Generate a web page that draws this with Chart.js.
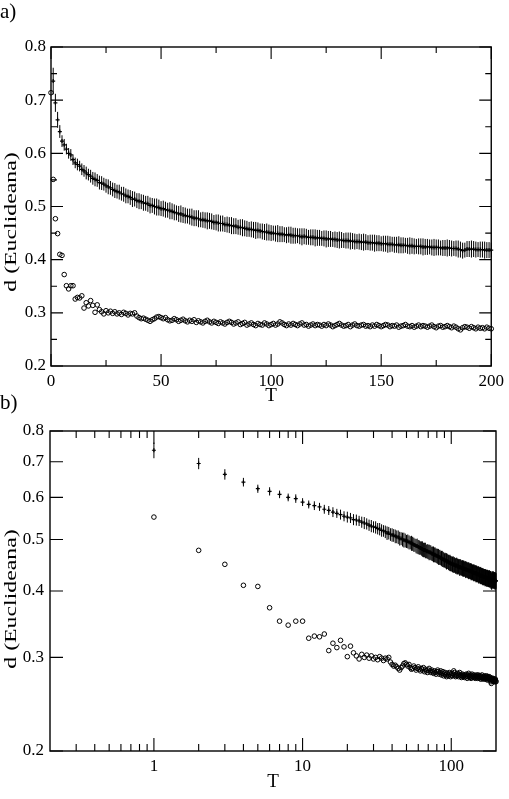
<!DOCTYPE html>
<html>
<head>
<meta charset="utf-8">
<script src="https://cdn.jsdelivr.net/npm/chart.js@4.4.0/dist/chart.umd.min.js"></script>
<style>
  body { margin: 0; background: #fff; width: 509px; height: 799px; position: relative; overflow: hidden; font-family: 'Liberation Serif', serif; }
  .box { position: absolute; left: 0; width: 509px; }
  .lbl { position: absolute; left: 0; font-size: 21px; line-height: 21px; color: #000; z-index: 2; }
  .ytitle { position: absolute; left: 10px; font-size: 17px; line-height: 17px; white-space: nowrap; color: #000; z-index: 2;
            transform: translate(-50%, -50%) rotate(-90deg) scaleX(1.4); }
</style>
</head>
<body>
<div class="box" style="top:0;height:410px"><canvas id="chartA" width="509" height="410"></canvas></div>
<div class="box" style="top:405px;height:394px"><canvas id="chartB" width="509" height="394"></canvas></div>
<div class="lbl" style="top:1px">a)</div>
<div class="lbl" style="top:392px">b)</div>
<div class="ytitle" style="top:222px">d (Euclideana)</div>
<div class="ytitle" style="top:599px">d (Euclideana)</div>
<script>
// T = 1 .. 200
const T = [
  1, 2, 3, 4, 5, 6, 7, 8, 9, 10, 11, 12, 13, 14, 15, 16, 17, 18, 19, 20,
  21, 22, 23, 24, 25, 26, 27, 28, 29, 30, 31, 32, 33, 34, 35, 36, 37, 38, 39, 40,
  41, 42, 43, 44, 45, 46, 47, 48, 49, 50, 51, 52, 53, 54, 55, 56, 57, 58, 59, 60,
  61, 62, 63, 64, 65, 66, 67, 68, 69, 70, 71, 72, 73, 74, 75, 76, 77, 78, 79, 80,
  81, 82, 83, 84, 85, 86, 87, 88, 89, 90, 91, 92, 93, 94, 95, 96, 97, 98, 99, 100,
  101, 102, 103, 104, 105, 106, 107, 108, 109, 110, 111, 112, 113, 114, 115, 116, 117, 118, 119, 120,
  121, 122, 123, 124, 125, 126, 127, 128, 129, 130, 131, 132, 133, 134, 135, 136, 137, 138, 139, 140,
  141, 142, 143, 144, 145, 146, 147, 148, 149, 150, 151, 152, 153, 154, 155, 156, 157, 158, 159, 160,
  161, 162, 163, 164, 165, 166, 167, 168, 169, 170, 171, 172, 173, 174, 175, 176, 177, 178, 179, 180,
  181, 182, 183, 184, 185, 186, 187, 188, 189, 190, 191, 192, 193, 194, 195, 196, 197, 198, 199, 200
]

// crosses with error bars (mean d)
const crossMean = [
  0.736, 0.695, 0.663, 0.641, 0.623, 0.616, 0.608, 0.600, 0.597, 0.588,
  0.582, 0.579, 0.576, 0.570, 0.567, 0.563, 0.560, 0.557, 0.553, 0.551,
  0.549, 0.545, 0.544, 0.542, 0.539, 0.537, 0.535, 0.532, 0.530, 0.528,
  0.527, 0.524, 0.523, 0.520, 0.519, 0.517, 0.514, 0.514, 0.511, 0.510,
  0.509, 0.507, 0.506, 0.505, 0.502, 0.502, 0.500, 0.499, 0.498, 0.496,
  0.496, 0.494, 0.493, 0.492, 0.491, 0.489, 0.488, 0.486, 0.486, 0.484,
  0.483, 0.482, 0.481, 0.480, 0.478, 0.478, 0.477, 0.475, 0.475, 0.474,
  0.473, 0.473, 0.472, 0.470, 0.470, 0.469, 0.468, 0.468, 0.466, 0.466,
  0.465, 0.464, 0.463, 0.463, 0.461, 0.461, 0.460, 0.459, 0.458, 0.457,
  0.457, 0.456, 0.455, 0.455, 0.454, 0.453, 0.452, 0.452, 0.451, 0.450,
  0.450, 0.449, 0.449, 0.448, 0.448, 0.447, 0.446, 0.447, 0.446, 0.445,
  0.445, 0.445, 0.444, 0.443, 0.444, 0.443, 0.442, 0.442, 0.442, 0.441,
  0.441, 0.441, 0.440, 0.440, 0.439, 0.439, 0.439, 0.438, 0.438, 0.437,
  0.437, 0.437, 0.436, 0.436, 0.436, 0.435, 0.435, 0.434, 0.434, 0.434,
  0.433, 0.433, 0.433, 0.432, 0.432, 0.432, 0.431, 0.431, 0.431, 0.430,
  0.430, 0.430, 0.429, 0.429, 0.429, 0.428, 0.428, 0.428, 0.427, 0.427,
  0.427, 0.426, 0.426, 0.426, 0.425, 0.425, 0.425, 0.425, 0.424, 0.424,
  0.424, 0.424, 0.423, 0.423, 0.423, 0.423, 0.422, 0.422, 0.422, 0.422,
  0.422, 0.421, 0.421, 0.421, 0.420, 0.419, 0.417, 0.418, 0.420, 0.420,
  0.420, 0.420, 0.419, 0.419, 0.419, 0.419, 0.418, 0.418, 0.418, 0.418
]

// half length of the error bars
const crossErr = [
  0.025, 0.017, 0.015, 0.012, 0.011, 0.011, 0.010, 0.010, 0.011, 0.010,
  0.010, 0.011, 0.010, 0.011, 0.011, 0.012, 0.011, 0.012, 0.012, 0.013,
  0.012, 0.013, 0.013, 0.012, 0.013, 0.014, 0.013, 0.013, 0.014, 0.013,
  0.014, 0.013, 0.014, 0.014, 0.013, 0.014, 0.015, 0.014, 0.014, 0.015,
  0.014, 0.015, 0.014, 0.015, 0.015, 0.014, 0.015, 0.016, 0.015, 0.014,
  0.015, 0.015, 0.014, 0.016, 0.015, 0.015, 0.014, 0.015, 0.016, 0.015,
  0.015, 0.014, 0.015, 0.016, 0.015, 0.015, 0.016, 0.014, 0.015, 0.015,
  0.016, 0.015, 0.015, 0.014, 0.015, 0.016, 0.015, 0.015, 0.014, 0.015,
  0.015, 0.016, 0.015, 0.015, 0.014, 0.015, 0.016, 0.015, 0.015, 0.014,
  0.015, 0.015, 0.016, 0.015, 0.014, 0.015, 0.015, 0.016, 0.015, 0.015,
  0.014, 0.015, 0.016, 0.015, 0.015, 0.014, 0.015, 0.015, 0.016, 0.015,
  0.015, 0.014, 0.015, 0.016, 0.015, 0.015, 0.014, 0.015, 0.015, 0.016,
  0.015, 0.015, 0.014, 0.015, 0.016, 0.015, 0.015, 0.014, 0.015, 0.015,
  0.016, 0.015, 0.014, 0.015, 0.015, 0.016, 0.015, 0.015, 0.014, 0.015,
  0.015, 0.016, 0.015, 0.014, 0.015, 0.015, 0.016, 0.015, 0.015, 0.014,
  0.015, 0.015, 0.016, 0.015, 0.014, 0.015, 0.015, 0.016, 0.015, 0.015,
  0.014, 0.015, 0.016, 0.015, 0.015, 0.014, 0.015, 0.015, 0.016, 0.015,
  0.015, 0.014, 0.015, 0.016, 0.015, 0.015, 0.014, 0.015, 0.015, 0.016,
  0.015, 0.015, 0.014, 0.015, 0.016, 0.015, 0.015, 0.014, 0.015, 0.015,
  0.016, 0.015, 0.015, 0.014, 0.015, 0.015, 0.016, 0.015, 0.015, 0.014
]

// open circles
const circleD = [
  0.551, 0.477, 0.449, 0.410, 0.408, 0.372, 0.351, 0.345, 0.351, 0.351,
  0.326, 0.329, 0.328, 0.332, 0.309, 0.319, 0.313, 0.323, 0.314, 0.301,
  0.315, 0.306, 0.302, 0.298, 0.304, 0.300, 0.303, 0.299, 0.302, 0.298,
  0.300, 0.297, 0.301, 0.299, 0.296, 0.299, 0.298, 0.300, 0.294, 0.291,
  0.289, 0.290, 0.288, 0.286, 0.284, 0.287, 0.289, 0.292, 0.293, 0.291,
  0.289, 0.291, 0.287, 0.285, 0.286, 0.289, 0.287, 0.284, 0.286, 0.288,
  0.285, 0.283, 0.286, 0.284, 0.287, 0.282, 0.285, 0.283, 0.281, 0.284,
  0.286, 0.283, 0.281, 0.284, 0.282, 0.280, 0.283, 0.281, 0.279, 0.282,
  0.284, 0.282, 0.279, 0.281, 0.283, 0.278, 0.280, 0.282, 0.277, 0.279,
  0.281, 0.278, 0.276, 0.280, 0.278, 0.277, 0.281, 0.279, 0.276, 0.278,
  0.280, 0.277, 0.279, 0.283, 0.281, 0.278, 0.276, 0.279, 0.277, 0.280,
  0.278, 0.276, 0.279, 0.281, 0.277, 0.278, 0.275, 0.277, 0.279, 0.276,
  0.278, 0.277, 0.275, 0.278, 0.276, 0.279, 0.277, 0.274, 0.276, 0.278,
  0.280, 0.277, 0.275, 0.276, 0.278, 0.274, 0.277, 0.279, 0.276, 0.275,
  0.277, 0.278, 0.275, 0.276, 0.274, 0.277, 0.275, 0.278, 0.276, 0.274,
  0.276, 0.278, 0.277, 0.274, 0.276, 0.275, 0.277, 0.273, 0.275, 0.276,
  0.278, 0.275, 0.274, 0.276, 0.273, 0.275, 0.277, 0.274, 0.276, 0.275,
  0.273, 0.275, 0.277, 0.274, 0.272, 0.275, 0.276, 0.273, 0.274, 0.276,
  0.274, 0.272, 0.275, 0.273, 0.270, 0.268, 0.272, 0.274, 0.273, 0.271,
  0.274, 0.272, 0.270, 0.273, 0.271, 0.272, 0.270, 0.273, 0.271, 0.270
]
// circle at T = 0 (only visible on the linear panel)
const circleAtZero = 0.714

// ticks, panel a
const xLabelsA = [0, 50, 100, 150, 200]
const xMinorA = [25, 75, 125, 175]
const yLabelsA = [0.2, 0.3, 0.4, 0.5, 0.6, 0.7, 0.8]
const yMinorA = [0.25, 0.35, 0.45, 0.55, 0.65, 0.75]

// ticks, panel b
const xLabelsB = [1, 10, 100]
const xMinorB = [0.3, 0.4, 0.5, 0.6, 0.7, 0.8, 0.9, 2, 3, 4, 5, 6, 7, 8, 9, 20, 30, 40, 50, 60, 70, 80, 90]
const yLabelsB = [0.2, 0.3, 0.4, 0.5, 0.6, 0.7, 0.8]

const serif = "'Liberation Serif', 'Times New Roman', serif"

// vertical error bars, drawn through the chart scales
const errorBars = {
  id: 'errorBars',
  afterDatasetsDraw(chart) {
    const {ctx, scales: {x, y}} = chart
    ctx.save()
    ctx.strokeStyle = '#000'
    ctx.lineWidth = 1
    chart.data.datasets.forEach(ds => {
      if (!ds.errors) return
      ctx.beginPath()
      ds.data.forEach((p, i) => {
        const px = x.getPixelForValue(p.x)
        ctx.moveTo(px, y.getPixelForValue(p.y - ds.errors[i]))
        ctx.lineTo(px, y.getPixelForValue(p.y + ds.errors[i]))
      })
      ctx.stroke()
    })
    ctx.restore()
  }
}

// box around the plot with inward ticks on all four sides
const frameTicks = {
  id: 'frameTicks',
  afterDraw(chart, args, o) {
    const {ctx, chartArea: a, scales: {x, y}} = chart
    ctx.save()
    ctx.strokeStyle = '#000'
    ctx.lineWidth = 1.1
    ctx.beginPath()
    const xt = (vals, len) => vals.forEach(v => {
      const p = x.getPixelForValue(v)
      ctx.moveTo(p, a.bottom); ctx.lineTo(p, a.bottom - len)
      ctx.moveTo(p, a.top); ctx.lineTo(p, a.top + len)
    })
    const yt = (vals, len) => vals.forEach(v => {
      const p = y.getPixelForValue(v)
      ctx.moveTo(a.left, p); ctx.lineTo(a.left + len, p)
      ctx.moveTo(a.right, p); ctx.lineTo(a.right - len, p)
    })
    xt(o.xMajor, o.major); xt(o.xMinor, o.minor)
    yt(o.yMajor, o.major); yt(o.yMinor, o.minor)
    ctx.stroke()
    ctx.lineWidth = 1.4
    ctx.strokeRect(a.left, a.top, a.right - a.left, a.bottom - a.top)
    ctx.restore()
  }
}

function crossSet(xs, ys, errs) {
  return {
    data: xs.map((t, i) => ({x: t, y: ys[i]})),
    errors: errs,
    pointStyle: 'cross', pointRadius: 2, borderWidth: 1.2,
    borderColor: '#000', backgroundColor: '#000', clip: false
  }
}

function circleSet(xs, ys) {
  return {
    data: xs.map((t, i) => ({x: t, y: ys[i]})),
    pointStyle: 'circle', pointRadius: 2.3, borderWidth: 1,
    borderColor: '#000', backgroundColor: 'rgba(0,0,0,0)', clip: false
  }
}

function axis(extra) {
  return Object.assign({
    grid: {display: false, drawTicks: false},
    border: {display: false},
  }, extra)
}

function tickFont() { return {family: serif, size: 17} }
function titleFont() { return {family: serif, size: 19, lineHeight: 1} }

new Chart(document.getElementById('chartA'), {
  type: 'scatter',
  data: {
    datasets: [
      crossSet(T, crossMean, crossErr),
      circleSet([0].concat(T), [circleAtZero].concat(circleD))
    ]
  },
  options: {
    responsive: false, animation: false, devicePixelRatio: 1,
    layout: {padding: {top: 47, right: 13, left: 0, bottom: 0}},
    plugins: {
      legend: {display: false}, tooltip: {enabled: false},
      frameTicks: {xMajor: xLabelsA, xMinor: xMinorA, yMajor: yLabelsA, yMinor: yMinorA, major: 12, minor: 6}
    },
    scales: {
      x: axis({
        type: 'linear', min: 0, max: 200,
        afterBuildTicks: s => { s.ticks = xLabelsA.map(v => ({value: v})) },
        afterFit: s => { s.height = 44 },
        ticks: {color: '#000', font: tickFont(), padding: 5, maxRotation: 0, autoSkip: false, callback: v => String(v)},
        title: {display: true, text: 'T', color: '#000', font: titleFont(), padding: {top: 0, bottom: 4}}
      }),
      y: axis({
        type: 'linear', min: 0.2, max: 0.8,
        afterBuildTicks: s => { s.ticks = yLabelsA.map(v => ({value: v})) },
        afterFit: s => { s.width = 51 },
        ticks: {color: '#000', font: tickFont(), padding: 5, autoSkip: false, callback: v => v.toFixed(1)}
      })
    }
  },
  plugins: [errorBars, frameTicks]
})

new Chart(document.getElementById('chartB'), {
  type: 'scatter',
  data: {
    datasets: [
      crossSet(T, crossMean, crossErr),
      circleSet(T, circleD)
    ]
  },
  options: {
    responsive: false, animation: false, devicePixelRatio: 1,
    layout: {padding: {top: 26, right: 13, left: 0, bottom: 0}},
    plugins: {
      legend: {display: false}, tooltip: {enabled: false},
      frameTicks: {xMajor: xLabelsB, xMinor: xMinorB, yMajor: yLabelsB, yMinor: [], major: 13, minor: 7}
    },
    scales: {
      x: axis({
        type: 'logarithmic', min: 0.2, max: 200,
        afterBuildTicks: s => { s.ticks = xLabelsB.map(v => ({value: v})) },
        afterFit: s => { s.height = 48 },
        ticks: {color: '#000', font: tickFont(), padding: 5, maxRotation: 0, autoSkip: false, callback: v => String(v)},
        title: {display: true, text: 'T', color: '#000', font: titleFont(), padding: {top: 0, bottom: 7}}
      }),
      y: axis({
        type: 'logarithmic', min: 0.2, max: 0.8,
        afterBuildTicks: s => { s.ticks = yLabelsB.map(v => ({value: v})) },
        afterFit: s => { s.width = 50 },
        ticks: {color: '#000', font: tickFont(), padding: 6, autoSkip: false, callback: v => v.toFixed(1)}
      })
    }
  },
  plugins: [errorBars, frameTicks]
})
</script>
</body>
</html>
